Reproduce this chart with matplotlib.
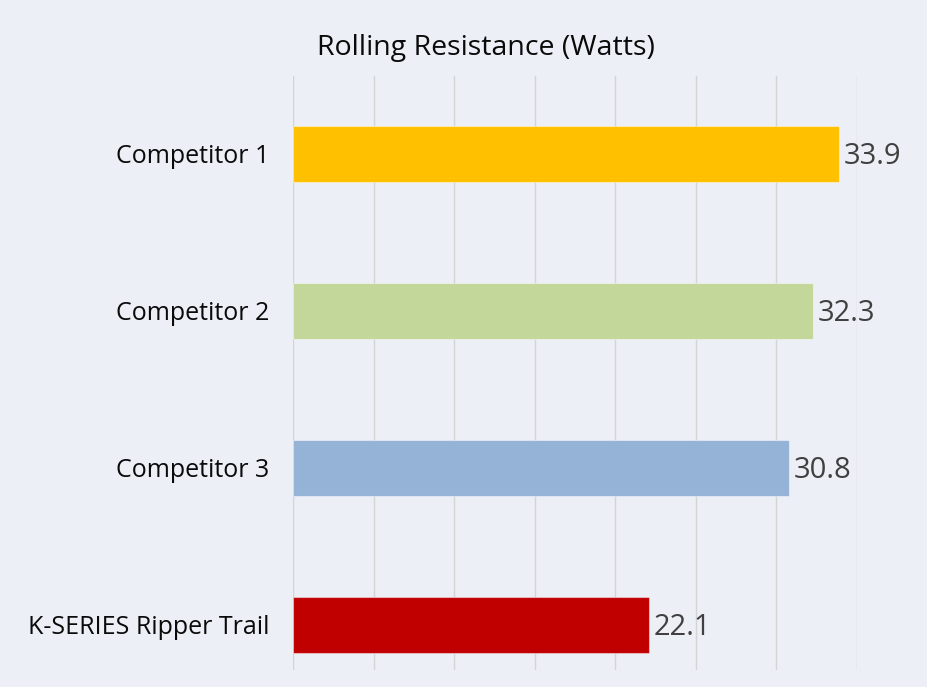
import matplotlib
matplotlib.use("Agg")
import matplotlib.pyplot as plt

# 数据
categories = ["Competitor 1", "Competitor 2", "Competitor 3", "K-SERIES Ripper Trail"]
watts = [33.9, 32.3, 30.8, 22.1]
bar_colors = ["#FFC000", "#C4D79B", "#95B3D7", "#C00000"]
x_ticks = [0, 5, 10, 15, 20, 25, 30, 35]
title = "Rolling Resistance (Watts)"

bg = "#ECEFF6"
plt.rcParams["font.family"] = ["Open Sans", "DejaVu Sans"]

fig = plt.figure(figsize=(9.28, 6.87), dpi=100, facecolor=bg)
ax = fig.add_axes([293 / 928, 1 - 670 / 687, (857 - 293) / 928, (670 - 76) / 687])
ax.set_facecolor(bg)

ypos = list(range(len(categories)))
bars = ax.barh(ypos, watts, height=0.357, color=bar_colors,
               edgecolor=(1, 1, 1, 0.45), linewidth=0.8, zorder=3)

# 数值标签
for rect, v in zip(bars, watts):
    ax.annotate(f"{v}", (rect.get_width(), rect.get_y() + rect.get_height() / 2),
                xytext=(3, -2), textcoords="offset points", ha="left", va="center",
                fontsize=21, color="#404040", zorder=4)

ax.set_xlim(0, 35)
ax.set_ylim(3.29, -0.497)
ax.set_xticks(x_ticks)
ax.set_xticklabels([])
ax.set_yticks(ypos)
ax.set_yticklabels(categories, fontsize=18, color="#0A0A0A")
ax.tick_params(axis="both", length=0)
ax.tick_params(axis="y", pad=17)
ax.grid(axis="x", color="#D4D4D4", linewidth=1, zorder=0)
ax.axvline(0, color="#C4C4C4", linewidth=1.2, zorder=1)
for s in ax.spines.values():
    s.set_visible(False)

fig.text(486 / 928, 1 - 48 / 687, title, ha="center", va="center",
         fontsize=20.5, color="#0A0A0A")

fig.savefig("out.png", dpi=100, facecolor=bg)
